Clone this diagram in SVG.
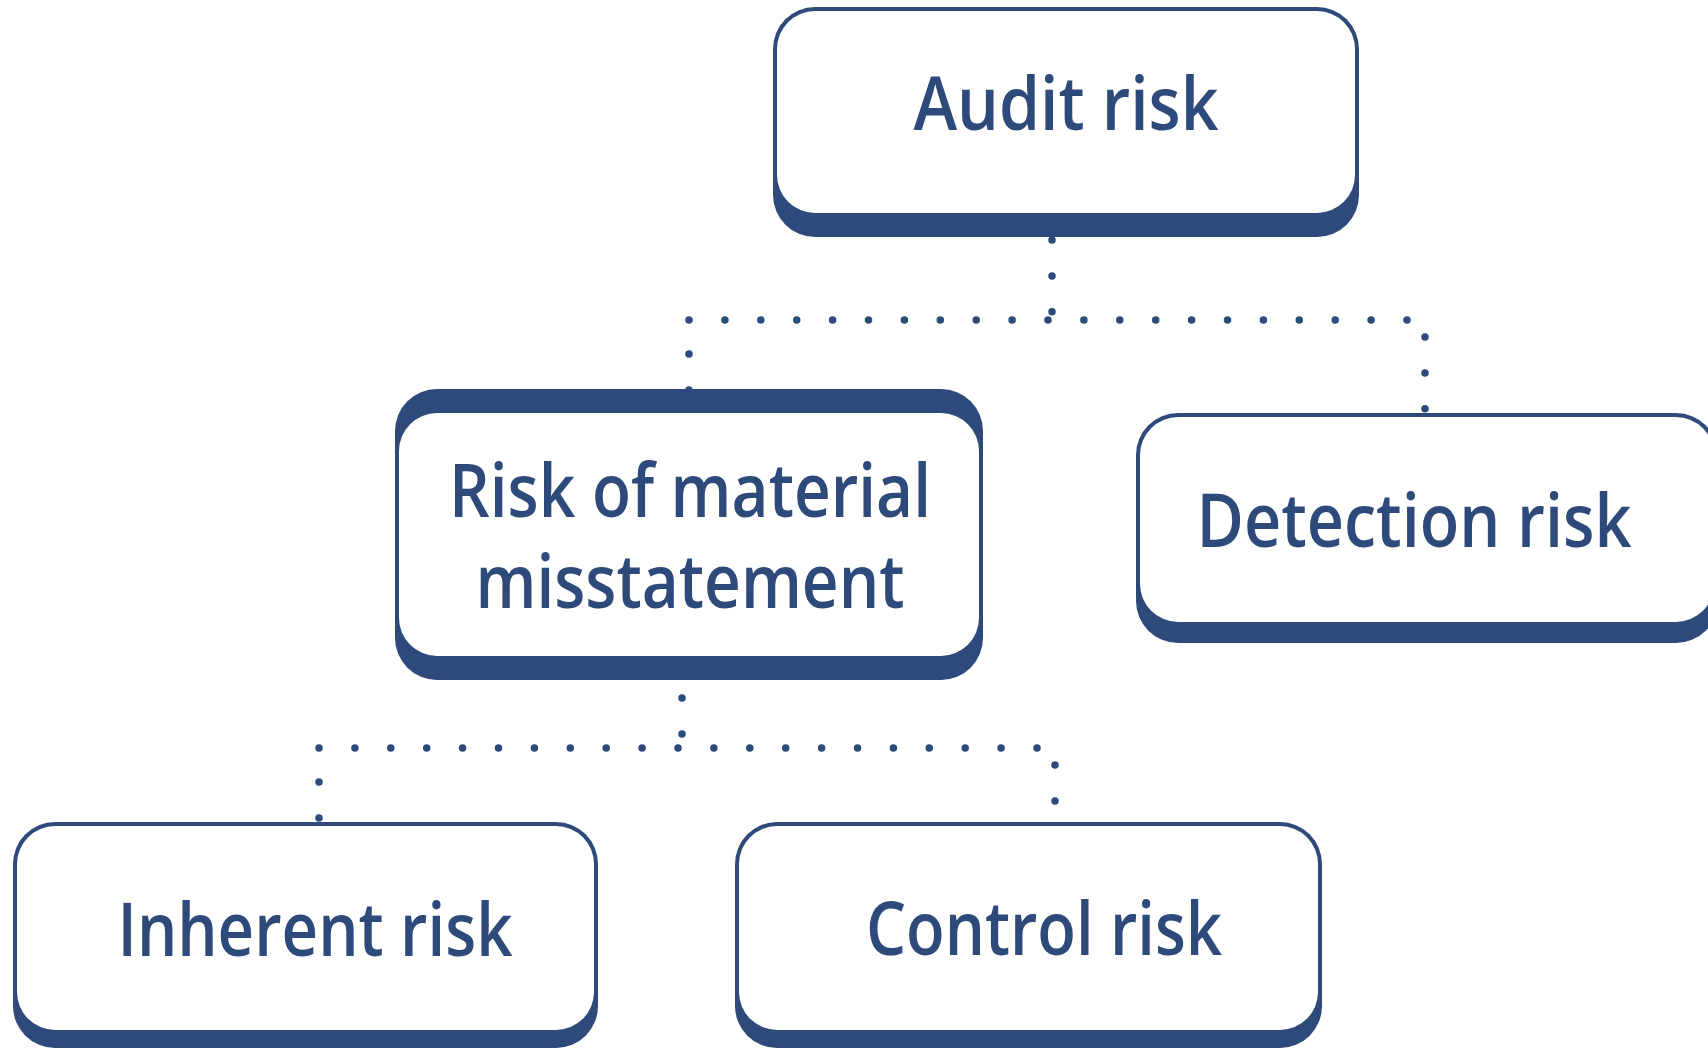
<svg xmlns="http://www.w3.org/2000/svg" width="1708" height="1049" viewBox="0 0 1708 1049">
<style>
.frame{fill:#2e4a7a}
.inner{fill:#ffffff}
.lbl{font-family:"Open Sans","Noto Sans","Liberation Sans",sans-serif;font-size:74px;font-weight:600;fill:#2e4a7a;text-anchor:middle}
.dots{fill:none;stroke:#2e4a7a;stroke-width:7.5;stroke-linecap:round;stroke-dasharray:0 35.9}
</style>
<rect width="1708" height="1049" fill="#ffffff"/>
<g id="connectors">
<path class="dots" d="M1052 240 V313"/>
<path class="dots" d="M689 320 H1409"/>
<path class="dots" d="M689 354 V391"/>
<path class="dots" d="M1425 337 V410"/>
<path class="dots" d="M682 698 V735"/>
<path class="dots" d="M319 748 H1039"/>
<path class="dots" d="M319 782 V819"/>
<path class="dots" d="M1055 765 V802"/>
</g>
<g id="audit-risk">
<rect class="frame" x="773" y="7" width="586" height="230" rx="42"/>
<rect class="inner" x="777" y="11" width="578" height="202" rx="38"/>
<text class="lbl" x="1066" y="130" textLength="305" lengthAdjust="spacingAndGlyphs">Audit risk</text>
</g>
<g id="risk-of-material-misstatement">
<rect class="frame" x="395" y="389" width="588" height="291" rx="42"/>
<rect class="inner" x="399" y="413" width="580" height="243" rx="38"/>
<text class="lbl" x="690" y="517" textLength="482" lengthAdjust="spacingAndGlyphs">Risk of material</text>
<text class="lbl" x="690" y="608" textLength="429" lengthAdjust="spacingAndGlyphs">misstatement</text>
</g>
<g id="detection-risk">
<rect class="frame" x="1136" y="413" width="582" height="230" rx="42"/>
<rect class="inner" x="1140" y="417" width="574" height="205" rx="38"/>
<text class="lbl" x="1414" y="547" textLength="435" lengthAdjust="spacingAndGlyphs">Detection risk</text>
</g>
<g id="inherent-risk">
<rect class="frame" x="13" y="822" width="585" height="226" rx="42"/>
<rect class="inner" x="17" y="826" width="577" height="204" rx="38"/>
<text class="lbl" x="315" y="956" textLength="395" lengthAdjust="spacingAndGlyphs">Inherent risk</text>
</g>
<g id="control-risk">
<rect class="frame" x="735" y="822" width="587" height="226" rx="42"/>
<rect class="inner" x="739" y="826" width="579" height="204" rx="38"/>
<text class="lbl" x="1044" y="955" textLength="356" lengthAdjust="spacingAndGlyphs">Control risk</text>
</g>
</svg>
